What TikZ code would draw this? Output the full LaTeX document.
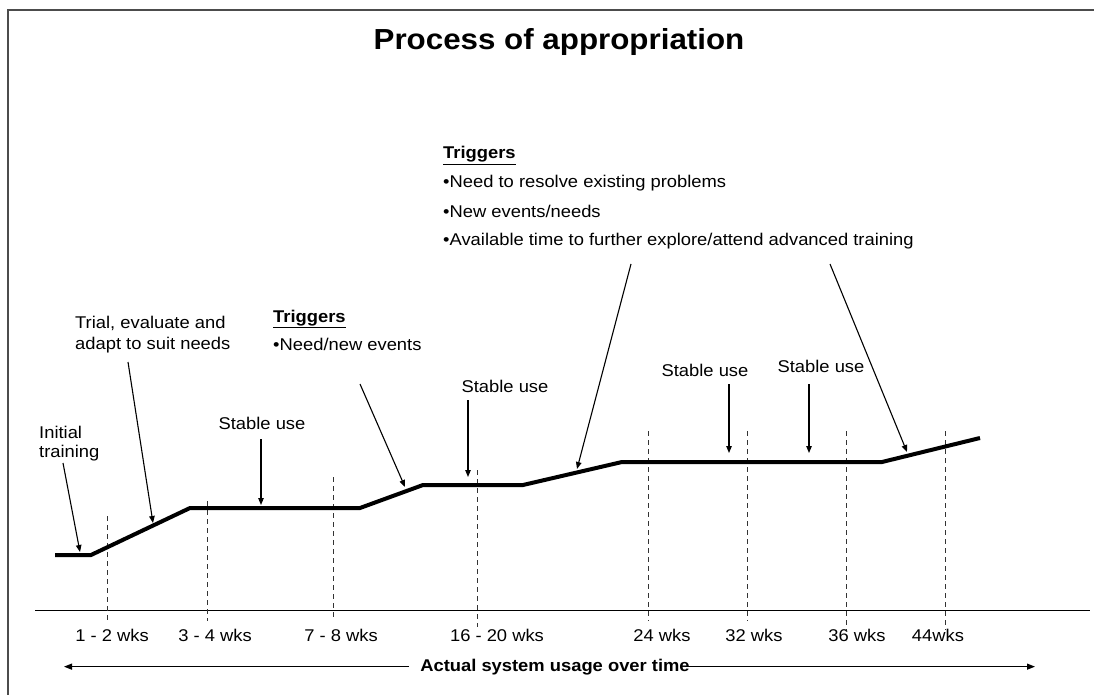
\documentclass[tikz,border=0pt]{standalone}
\usepackage{fontspec}
\setmainfont[FakeStretch=1.08]{Liberation Sans}
\usetikzlibrary{arrows.meta}
\begin{document}
\begin{tikzpicture}[x=1pt,y=-1pt,
  lbl/.style={font=\fontsize{17}{20}\selectfont, inner sep=0pt},
  tick/.style={lbl, anchor=base},
  ptr/.style={line width=1.1pt, -{Triangle[length=7pt,width=5.5pt]}},
  vline/.style={dash pattern=on 5pt off 4pt, line width=0.8pt, black!80},
  usage/.style={line width=4pt, line join=miter},
  framel/.style={line width=1.6pt, black!70},
  timearrow/.style={line width=1.3pt, -{Triangle[length=8pt,width=6pt]}}]
\useasboundingbox (0,0) rectangle (1094,695);
\fill[white] (0,0) rectangle (1094,695);
% frame
\coordinate (fbl) at (8,695);
\coordinate (ftl) at (8,10);
\coordinate (ftr) at (1094,10);
\draw[framel] (fbl) -- (ftl) -- (ftr);
% title
\node[font=\fontsize{29}{32}\selectfont\bfseries, inner sep=0pt, anchor=base] (title) at (559,50) {Process of appropriation};
% axis
\coordinate (axl) at (35,610);
\coordinate (axr) at (1090,610);
\draw[line width=1pt] (axl) -- (axr);
% dashed lines
\foreach \x/\t/\b [count=\i] in {107/516/621, 207/501/621, 333/477/617, 477/470/627, 648/431/621, 747/431/621, 846/431/630, 945/431/630} {
  \coordinate (vt\i) at (\x,\t);
  \coordinate (vb\i) at (\x,\b);
  \draw[vline] (vt\i) -- (vb\i);
}
% tick labels
\node[tick] (w1) at (112,641) {1 - 2 wks};
\node[tick] (w2) at (215,641) {3 - 4 wks};
\node[tick] (w3) at (341,641) {7 - 8 wks};
\node[tick] (w4) at (497,641) {16 - 20 wks};
\node[tick] (w5) at (662,641) {24 wks};
\node[tick] (w6) at (754,641) {32 wks};
\node[tick] (w7) at (857,641) {36 wks};
\node[tick] (w8) at (938,641) {44wks};
% time arrow
\node[font=\fontsize{17}{20}\selectfont\bfseries, inner sep=0pt, anchor=base] (axtxt) at (555,671) {Actual system usage over time};
\coordinate (tl) at (64,0);
\coordinate (tr) at (1035,0);
\draw[timearrow] ([xshift=-11pt]axtxt.west) -- (axtxt.west -| tl);
\draw[timearrow] ([xshift=-5pt]axtxt.east) -- (axtxt.east -| tr);
% usage curve
\coordinate (p0) at (55,555);
\coordinate (p1) at (91,555);
\coordinate (p2) at (190,508);
\coordinate (p3) at (360,508);
\coordinate (p4) at (423,485);
\coordinate (p5) at (523,485);
\coordinate (p6) at (622,462);
\coordinate (p7) at (882,462);
\coordinate (p8) at (980,438);
\draw[usage] (p0) -- (p1) -- (p2) -- (p3) -- (p4) -- (p5) -- (p6) -- (p7) -- (p8);
% labels
\node[lbl, anchor=base west] (init1) at (39,438) {Initial};
\node[lbl, anchor=base west] (init2) at (39,457.5) {training};
\node[lbl, anchor=base west] (trial1) at (75,328) {Trial, evaluate and};
\node[lbl, anchor=base west] (trial2) at (75,349) {adapt to suit needs};
\node[lbl, anchor=base] (st1) at (262,429) {Stable use};
\node[lbl, anchor=base west] (trg1a) at (273,322) {\underline{\textbf{Triggers}}};
\node[lbl, anchor=base west] (trg1b) at (273,350) {•Need/new events};
\node[lbl, anchor=base] (st2) at (505,392) {Stable use};
\node[lbl, anchor=base west] (trg2a) at (443,159) {\underline{\textbf{Triggers}}};
\node[lbl, anchor=base west] (trg2b) at (443,187) {•Need to resolve existing problems};
\node[lbl, anchor=base west] (trg2c) at (443,217) {•New events/needs};
\node[lbl, anchor=base west] (trg2d) at (443,245) {•Available time to further explore/attend advanced training};
\node[lbl, anchor=base] (st3) at (705,376) {Stable use};
\node[lbl, anchor=base] (st4) at (821,372) {Stable use};
% pointer arrows
\coordinate (a1s) at (63,463);   \coordinate (a1e) at (80,552);
\coordinate (a2s) at (128,362);  \coordinate (a2e) at (153,523);
\coordinate (a3s) at (261,439);  \coordinate (a3e) at (261,505);
\coordinate (a4s) at (360,384);  \coordinate (a4e) at (405,487);
\coordinate (a5s) at (468,400);  \coordinate (a5e) at (468,477);
\coordinate (a6s) at (631,264);  \coordinate (a6e) at (577,469);
\coordinate (a7s) at (830,264);  \coordinate (a7e) at (907,452);
\coordinate (a8s) at (729,384);  \coordinate (a8e) at (729,453);
\coordinate (a9s) at (809,384);  \coordinate (a9e) at (809,453);
\foreach \i in {1,...,9} { \draw[ptr] (a\i s) -- (a\i e); }
\end{tikzpicture}
\end{document}
